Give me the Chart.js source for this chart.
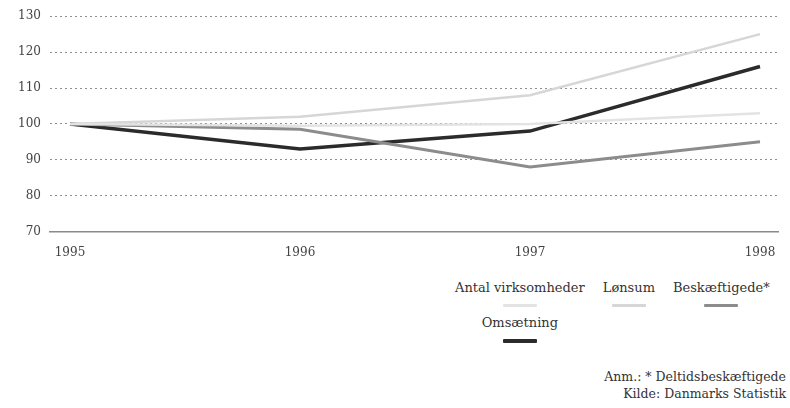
<!DOCTYPE html>
<html>
<head>
<meta charset="utf-8">
<script src="https://cdn.jsdelivr.net/npm/chart.js@4"></script>
<style>
  html, body { margin: 0; padding: 0; background: #fff; }
  body { width: 790px; height: 408px; position: relative; overflow: hidden;
         font-family: 'DejaVu Serif', serif; color: #333; }
  #wrap { position: absolute; left: 0; top: 0; width: 790px; height: 274px; }
  #legend { position: absolute; left: 455px; top: 279px;
            display: grid; grid-template-columns: auto auto auto; column-gap: 18px; row-gap: 7px; }
  .item { text-align: center; font-size: 13px; line-height: 17px; }
  .item .mark { width: 34px; margin: 8px auto 0; border-radius: 1px; }
  #notes { position: absolute; right: 4px; top: 368px; text-align: right;
           font-size: 12.5px; line-height: 17px; color: #333; }
</style>
</head>
<body>
<div id="wrap"><canvas id="chart"></canvas></div>
<div id="legend"></div>
<div id="notes">Anm.: * Deltidsbeskæftigede<br>Kilde: Danmarks Statistik</div>
<script>
// ── Data ─────────────────────────────────────────────────────────────
const YEARS         = [1995, 1996, 1997, 1998];
const ANTAL         = [100, 99.5, 100, 103];
const LONSUM        = [100, 102, 108, 125];
const BESKAEFTIGEDE = [100, 98.5, 88, 95];
const OMSAETNING    = [100, 93, 98, 116];
const Y_TICKS       = [70, 80, 90, 100, 110, 120, 130];

const SERIES = [
  { label: 'Antal virksomheder', data: ANTAL,         color: '#e3e3e3', width: 2.5 },
  { label: 'Lønsum',             data: LONSUM,        color: '#d6d6d6', width: 2.5 },
  { label: 'Beskæftigede*',      data: BESKAEFTIGEDE, color: '#8c8c8c', width: 3 },
  { label: 'Omsætning',          data: OMSAETNING,    color: '#2b2b2b', width: 3.5 },
];

const FONT = "'DejaVu Serif', serif";

// ── Chart ────────────────────────────────────────────────────────────
new Chart(document.getElementById('chart'), {
  type: 'line',
  data: {
    datasets: SERIES.map(s => ({
      label: s.label,
      data: s.data.map((v, i) => ({ x: YEARS[i], y: v })),
      borderColor: s.color,
      borderWidth: s.width,
      pointRadius: 0,
      tension: 0,
      fill: false,
    }))
  },
  options: {
    responsive: true,
    maintainAspectRatio: false,
    animation: false,
    layout: { padding: { top: 6, right: 12, left: 0, bottom: 0 } },
    plugins: { legend: { display: false }, tooltip: { enabled: false } },
    scales: {
      x: {
        type: 'linear',
        min: 1995 - 20 / 230,
        max: 1998 + 18 / 230,
        afterBuildTicks: axis => { axis.ticks = YEARS.map(v => ({ value: v })); },
        grid: { display: false, drawTicks: false },
        border: { display: true, color: '#8a8a8a', width: 1.5 },
        ticks: { padding: 14, color: '#444', font: { family: FONT, size: 12 },
                 callback: v => String(v) }
      },
      y: {
        min: 70,
        max: 130,
        afterBuildTicks: axis => { axis.ticks = Y_TICKS.map(v => ({ value: v })); },
        afterFit: axis => { axis.width = 50; },
        grid: { color: '#8f8f8f', lineWidth: 1, drawTicks: false },
        border: { display: false, dash: [2, 3] },
        ticks: { padding: 9, color: '#444', font: { family: FONT, size: 12 } }
      }
    }
  }
});

// ── Legend ───────────────────────────────────────────────────────────
const legend = document.getElementById('legend');
SERIES.forEach(s => {
  const item = document.createElement('div');
  item.className = 'item';
  item.innerHTML = `<div>${s.label}</div><div class="mark" style="height:${s.width}px;background:${s.color}"></div>`;
  legend.appendChild(item);
});
</script>
</body>
</html>
